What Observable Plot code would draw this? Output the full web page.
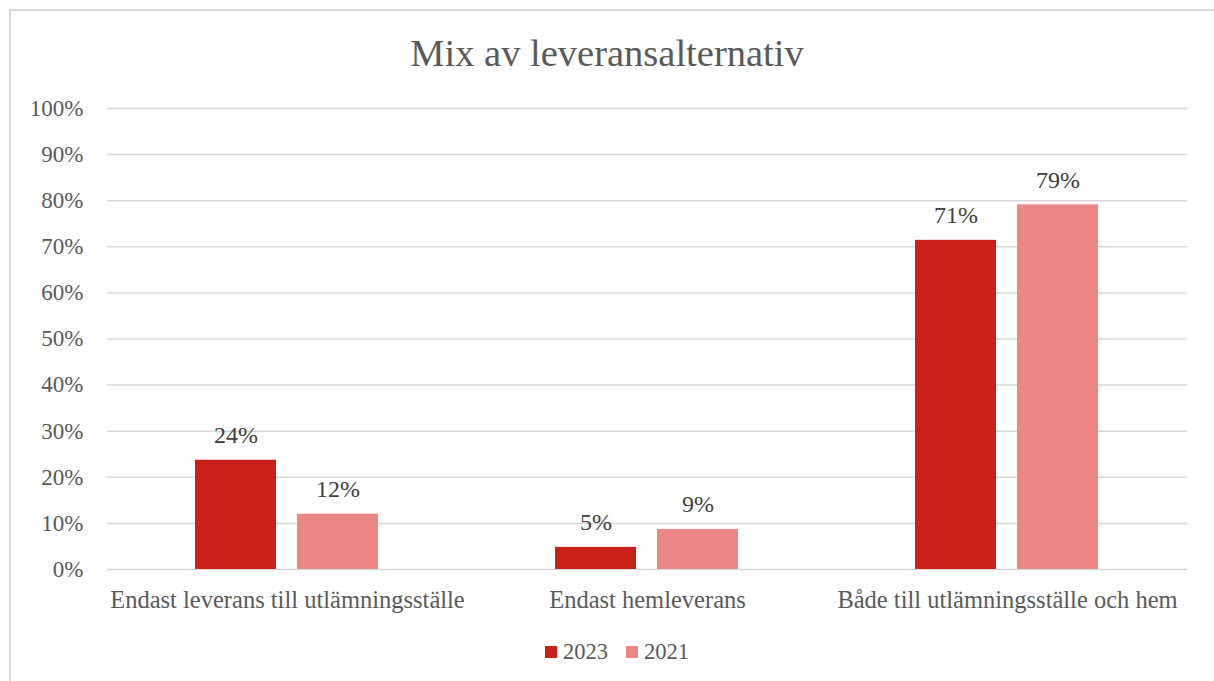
<!DOCTYPE html>
<html>
<head>
<meta charset="utf-8">
<script src="https://cdn.jsdelivr.net/npm/d3@7"></script>
<script src="https://cdn.jsdelivr.net/npm/@observablehq/plot@0.6"></script>
<style>
  html, body { margin: 0; padding: 0; background: #fff; }
  #wrap { position: relative; width: 1214px; height: 681px; overflow: hidden; font-family: "Liberation Serif", "DejaVu Serif", serif; color: #595959; }
  #frame { position: absolute; left: 9px; top: 9px; width: 1220px; height: 700px; border: 2px solid #D9D9D9; box-sizing: border-box; }
  #title { position: absolute; left: 0; width: 1214px; top: 32px; text-align: center; font-size: 38.5px; line-height: 42px; color: #595959; }
  #chart { position: absolute; left: 0; top: 0; }
  #legend { position: absolute; top: 640px; left: 545px; display: flex; align-items: center; font-size: 22.5px; line-height: 24px; color: #595959; }
  .sw { width: 12px; height: 12px; display: inline-block; margin-right: 6px; }
  .item { display: flex; align-items: center; margin-right: 18px; }
</style>
</head>
<body>
<div id="wrap">
  <div id="frame"></div>
  <div id="chart"></div>
  <div id="title">Mix av leveransalternativ</div>
  <div id="legend"></div>
</div>
<script>
const categories = ["Endast leverans till utlämningsställe", "Endast hemleverans", "Både till utlämningsställe och hem"];
const series = ["2023", "2021"];
const values2023 = [23.7, 4.8, 71.4];
const values2021 = [12.0, 8.7, 79.1];
const yTicks = [0, 10, 20, 30, 40, 50, 60, 70, 80, 90, 100];
const colors = ["#C9211A", "#EB8886"];
const serifFont = "Liberation Serif";

const data = [];
categories.forEach((c, i) => {
  data.push({cat: c, year: "2023", value: values2023[i]});
  data.push({cat: c, year: "2021", value: values2021[i]});
});

const chart = Plot.plot({
  width: 1214,
  height: 620,
  marginTop: 108,
  marginBottom: 51,
  marginLeft: 106,
  marginRight: 27,
  style: {fontFamily: serifFont, fontSize: "21px", color: "#595959", background: "transparent"},
  fx: {domain: categories, padding: 0, label: null, axis: null},
  x: {domain: series, paddingInner: 0.204, paddingOuter: 0.85, axis: null},
  y: {domain: [0, 100], label: null, axis: null},
  color: {domain: series, range: colors},
  marks: [
    Plot.ruleY(yTicks, {y: d => d, stroke: "#D9D9D9", strokeWidth: 1.5}),
    Plot.barY(data, {fx: "cat", x: "year", y: "value", fill: "year"}),
    Plot.text(data, {fx: "cat", x: "year", y: "value", text: d => Math.round(d.value) + "%", dy: -17, lineAnchor: "bottom", fill: "#404040", fontSize: 24, fontFamily: serifFont}),
    Plot.axisY({ticks: yTicks, tickFormat: d => d + "%", tickSize: 0, tickPadding: 24, label: null, fontSize: 23, fill: "#595959", fontFamily: serifFont}),
    Plot.axisFx({anchor: "bottom", tickSize: 0, tickPadding: 21, label: null, fontSize: 24.5, fill: "#595959", fontFamily: serifFont})
  ]
});
document.getElementById("chart").appendChild(chart);

const legend = document.getElementById("legend");
series.forEach((s, i) => {
  const item = document.createElement("div");
  item.className = "item";
  const sw = document.createElement("span");
  sw.className = "sw";
  sw.style.background = colors[i];
  item.appendChild(sw);
  item.appendChild(document.createTextNode(s));
  legend.appendChild(item);
});
</script>
</body>
</html>
